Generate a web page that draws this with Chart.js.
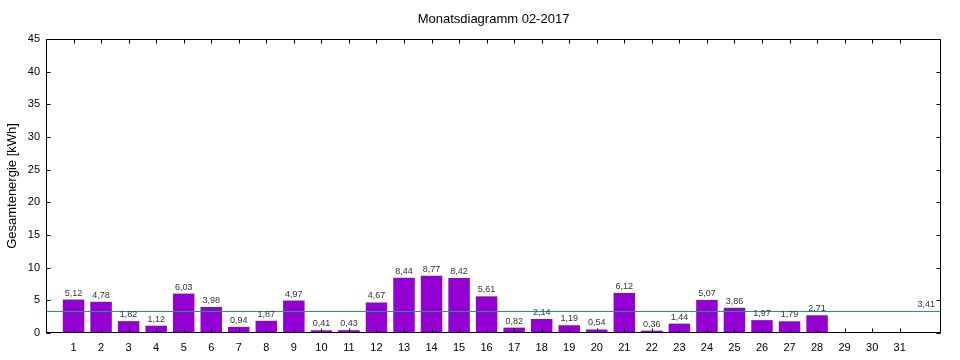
<!DOCTYPE html>
<html><head><meta charset="utf-8">
<script src="https://cdn.jsdelivr.net/npm/chart.js@4/dist/chart.umd.min.js"></script>
<style>html,body{margin:0;padding:0;background:#fff}</style>
</head><body>
<canvas id="c" width="960" height="360" style="width:960px;height:360px;display:block"></canvas>
<script>
const days = [1,2,3,4,5,6,7,8,9,10,11,12,13,14,15,16,17,18,19,20,21,22,23,24,25,26,27,28,29,30,31];
const energy = [5.12,4.78,1.82,1.12,6.03,3.98,0.94,1.87,4.97,0.41,0.43,4.67,8.44,8.77,8.42,5.61,0.82,2.14,1.19,0.54,6.12,0.36,1.44,5.07,3.86,1.97,1.79,2.71];
const average = 3.41;
const yTicks = [0,5,10,15,20,25,30,35,40,45];
const chartTitle = 'Monatsdiagramm 02-2017';
const yTitle = 'Gesamtenergie [kWh]';
const FONT = '"Liberation Sans", Arial, sans-serif';
const fmt = v => v.toFixed(2).replace('.', ',');

const decor = {
  id: 'decor',
  afterDatasetsDraw(chart) {
    const {ctx, chartArea: a, scales: {x, y}} = chart;
    ctx.save();
    // average line
    const ay = Math.round(y.getPixelForValue(average)) + 0.5;
    ctx.strokeStyle = '#13a07e';
    ctx.lineWidth = 1;
    ctx.beginPath(); ctx.moveTo(a.left, ay); ctx.lineTo(a.right, ay); ctx.stroke();
    ctx.fillStyle = '#333';
    ctx.font = '9px ' + FONT;
    ctx.textAlign = 'right'; ctx.textBaseline = 'bottom';
    ctx.fillText(fmt(average), a.right - 6, ay - 2);
    // value labels
    ctx.textAlign = 'center';
    const meta = chart.getDatasetMeta(0);
    meta.data.forEach((bar, i) => {
      ctx.fillText(fmt(energy[i]), bar.x, bar.y - 2);
    });
    // frame
    ctx.strokeStyle = '#000';
    ctx.lineWidth = 1;
    const L = Math.round(a.left) + 0.5, R = Math.round(a.right) - 0.5, T = Math.round(a.top) + 0.5, B = Math.round(a.bottom) - 0.5;
    ctx.strokeRect(L, T, R - L, B - T);
    // inward ticks
    const tl = 4;
    ctx.beginPath();
    days.forEach(d => {
      const px = Math.round(x.getPixelForValue(d)) + 0.5;
      ctx.moveTo(px, B); ctx.lineTo(px, B - tl);
      ctx.moveTo(px, T); ctx.lineTo(px, T + tl);
    });
    yTicks.forEach(v => {
      const py = Math.round(y.getPixelForValue(v)) + 0.5;
      ctx.moveTo(L, py); ctx.lineTo(L + tl, py);
      ctx.moveTo(R, py); ctx.lineTo(R - tl, py);
    });
    ctx.stroke();
    // title
    ctx.fillStyle = '#000';
    ctx.font = '13px ' + FONT;
    ctx.textAlign = 'center'; ctx.textBaseline = 'middle';
    ctx.fillText(chartTitle, (a.left + a.right) / 2, 19);
    // y title
    ctx.translate(12, (a.top + a.bottom) / 2);
    ctx.rotate(-Math.PI / 2);
    ctx.fillText(yTitle, 0, 0);
    ctx.restore();
  }
};

new Chart(document.getElementById('c'), {
  type: 'bar',
  data: {
    datasets: [{
      data: energy.map((v, i) => ({x: days[i], y: v})),
      backgroundColor: '#9400d3',
      borderWidth: 0,
      barPercentage: 1,
      categoryPercentage: 0.78
    }]
  },
  options: {
    responsive: false,
    devicePixelRatio: 1,
    animation: false,
    layout: {padding: {left: 0, right: 19, top: 39, bottom: 0}},
    plugins: {legend: {display: false}, tooltip: {enabled: false}, title: {display: false}},
    scales: {
      x: {
        type: 'linear', min: 0, max: 32.5, offset: false,
        afterBuildTicks: s => { s.ticks = days.map(d => ({value: d})); },
        afterFit: s => { s.height = 27; },
        grid: {display: false, drawTicks: false, offset: false},
        border: {display: false},
        ticks: {autoSkip: false, maxRotation: 0, padding: 8, color: '#000', font: {family: FONT, size: 11},
          callback: v => String(v)}
      },
      y: {
        min: 0, max: 45,
        afterBuildTicks: s => { s.ticks = yTicks.map(v => ({value: v})); },
        afterFit: s => { s.width = 46; },
        grid: {display: false, drawTicks: false},
        border: {display: false},
        ticks: {padding: 6, color: '#000', font: {family: FONT, size: 11}}
      }
    }
  },
  plugins: [decor]
});
</script>
</body></html>
